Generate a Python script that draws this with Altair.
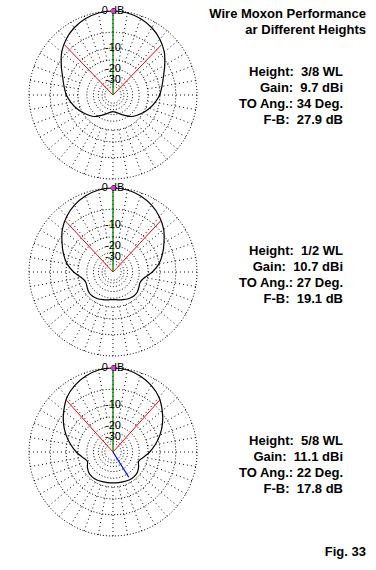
import altair as alt
import pandas as pd

W, H = 376, 570

# ---------------- values ----------------
TITLE = ["Wire Moxon Performance", "ar Different Heights"]
HEIGHTS = ["3/8 WL", "1/2 WL", "5/8 WL"]
GAINS = ["9.7 dBi", "10.7 dBi", "11.1 dBi"]
TO_ANGLES = ["34 Deg.", "27 Deg.", "22 Deg."]
FB = ["27.9 dB", "19.1 dB", "17.8 dB"]
FIG = "Fig. 33"

# pattern: degrees from forward (one side, symmetric) and relative field in dB
ANG = [0, 10, 20, 30, 40, 50, 60, 70, 80, 90, 100, 110, 120, 130, 140, 150, 160, 170, 180]
DB_38 = [0, -0.15, -0.6, -1.35, -2.45, -3.9, -5.85, -7.7, -9.0, -10.1, -11.6, -13.2,
         -15.0, -16.8, -18.8, -21.8, -24.5, -26.8, -27.9]
DB_12 = [0, -0.15, -0.65, -1.45, -2.6, -4.1, -6.1, -8.0, -10.1, -13.0, -16.5, -18.2,
         -17.7, -16.8, -16.7, -17.2, -18.0, -18.7, -19.1]
DB_58 = [0, -0.15, -0.7, -1.55, -2.75, -4.6, -6.6, -8.9, -11.5, -14.2, -17.2, -19.3,
         -17.9, -16.7, -16.3, -16.4, -16.8, -17.1, -17.2]
PATTERNS = [DB_38, DB_12, DB_58]

HALF_BW = [44, 43, 42]          # -3 dB points, degrees either side of forward
BLUE_ANG, BLUE_DB = 148, -17.8  # marker on the 5/8 WL plot
RING_DB = [0, -5, -10, -15, -20, -25, -30, -35, -40]
LABEL_TEXT = ["0 dB", "-10", "-20", "-30"]
LABEL_DB = [0, -10, -20, -30]
SPOKES = list(range(0, 360, 10))
SPOKE_IN_DB = -15

# ---------------- layout ----------------
R = 84
CX = 113
CY = [95, 272, 452]
INFO_X = 343
INFO_TOP = [72, 251, 441]
INFO_STEP = 16
TITLE_X = 366
TITLE_Y = [14, 30]
FIG_Y = 552

sx = alt.Scale(domain=[0, W], nice=False, zero=False)
sy = alt.Scale(domain=[0, H], nice=False, zero=False, reverse=True)

CY_EXPR = f"datum.panel == 0 ? {CY[0]} : (datum.panel == 1 ? {CY[1]} : {CY[2]})"


def polar(ch):
    return ch.transform_calculate(
        cy=CY_EXPR,
        cx=str(CX),
        r=f"{R} * pow(0.89, -datum.db / 2)",
    ).transform_calculate(
        px=f"datum.cx + datum.r * sin(datum.ang * PI / 180)",
        py=f"datum.cy - datum.r * cos(datum.ang * PI / 180)",
    )


X = alt.X("px:Q", scale=sx, axis=None)
Y = alt.Y("py:Q", scale=sy, axis=None)

# rings
ring_rows = []
for p in range(3):
    for rd in RING_DB:
        for a in range(0, 361, 3):
            ring_rows.append({"panel": p, "key": f"{p}_{rd}", "ang": a, "db": rd})
rings = polar(alt.Chart(pd.DataFrame(ring_rows)).mark_line(
    color="black", strokeWidth=1, strokeDash=[1, 2])).encode(
    x=X, y=Y, detail="key:N", order="ang:Q")

# spokes
spoke_rows = []
for p in range(3):
    for s in SPOKES:
        for d in (SPOKE_IN_DB, 0):
            spoke_rows.append({"panel": p, "key": f"{p}_{s}", "ang": s, "db": d})
spokes = polar(alt.Chart(pd.DataFrame(spoke_rows)).mark_line(
    color="black", strokeWidth=1, strokeDash=[1, 3])).encode(
    x=X, y=Y, detail="key:N", order="db:Q")

# patterns
pat_rows = []
for p, dbs in enumerate(PATTERNS):
    for a, d in zip(ANG, dbs):
        pat_rows.append({"panel": p, "ang": a, "db": d})
        if 0 < a < 180:
            pat_rows.append({"panel": p, "ang": 360 - a, "db": d})
pattern = polar(alt.Chart(pd.DataFrame(pat_rows)).mark_line(
    color="black", strokeWidth=1.2, interpolate="cardinal-closed")).encode(
    x=X, y=Y, detail="panel:N", order="ang:Q")

# beamwidth lines (red)
red_rows = []
for p, hb in enumerate(HALF_BW):
    red_rows.append({"panel": p, "ang": hb, "db": -3})
    red_rows.append({"panel": p, "ang": 360 - hb, "db": -3})
CXE = alt.X("cx:Q", scale=sx, axis=None)
CYE = alt.Y("cy:Q", scale=sy, axis=None)
red = polar(alt.Chart(pd.DataFrame(red_rows)).mark_rule(color="#ff0000", strokeWidth=1)).encode(
    x=CXE, y=CYE, x2="px:Q", y2="py:Q")

green = polar(alt.Chart(pd.DataFrame({"panel": [0, 1, 2], "ang": [0, 0, 0], "db": [0, 0, 0]})
                        ).mark_rule(color="#008000", strokeWidth=1.3)).encode(
    x=CXE, y=CYE, x2="px:Q", y2="py:Q")

blue = polar(alt.Chart(pd.DataFrame({"panel": [2], "ang": [BLUE_ANG], "db": [BLUE_DB]})
                       ).mark_rule(color="#0000ff", strokeWidth=1.3)).encode(
    x=CXE, y=CYE, x2="px:Q", y2="py:Q")

# ring labels
lab_rows = []
for p in range(3):
    for t, d in zip(LABEL_TEXT, LABEL_DB):
        lab_rows.append({"panel": p, "ang": 0, "db": d, "t": t})
labels = polar(alt.Chart(pd.DataFrame(lab_rows)).mark_text(
    font="Liberation Sans", fontSize=11, color="black", align="center", baseline="middle")).encode(
    x=X, y=Y, text="t:N")

dot = polar(alt.Chart(pd.DataFrame({"panel": [0, 1, 2], "ang": [0, 0, 0], "db": [0, 0, 0]})
                      ).mark_circle(color="#dd33dd", size=22, opacity=1)).encode(x=X, y=Y)

# right-hand text
NB = "\u00a0"
txt_rows = []
for p in range(3):
    lines = [f"Height:{NB} {HEIGHTS[p]}", f"Gain:{NB} {GAINS[p]}",
             f"TO Ang.: {TO_ANGLES[p]}", f"F-B:{NB} {FB[p]}"]
    for i, l in enumerate(lines):
        txt_rows.append({"x": INFO_X, "y": INFO_TOP[p] + i * INFO_STEP, "t": l})
for t, y in zip(TITLE, TITLE_Y):
    txt_rows.append({"x": TITLE_X, "y": y, "t": t})
txt_rows.append({"x": TITLE_X, "y": FIG_Y, "t": FIG})
info = alt.Chart(pd.DataFrame(txt_rows)).mark_text(
    font="Liberation Sans", fontSize=13, fontWeight="bold", color="black",
    align="right", baseline="middle").encode(
    x=alt.X("x:Q", scale=sx, axis=None), y=alt.Y("y:Q", scale=sy, axis=None), text="t:N")

chart = alt.layer(rings, spokes, pattern, red, green, blue, labels, dot, info).properties(
    width=W, height=H, padding=0, autosize=alt.AutoSizeParams(type="none"),
    background="white",
).configure_view(stroke=None)

chart.save("out.html", embed_options={"renderer": "svg", "actions": False})
